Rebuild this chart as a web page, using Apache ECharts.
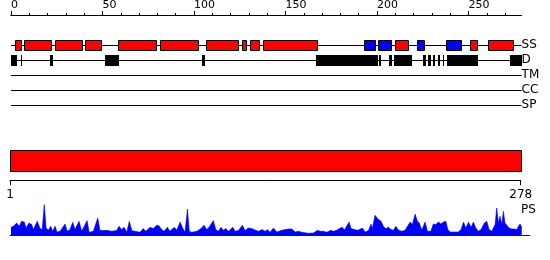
<!DOCTYPE html>
<html><head><meta charset="utf-8">
<script src="https://cdn.jsdelivr.net/npm/echarts@6/dist/echarts.min.js"></script>
<style>html,body{margin:0;padding:0;background:#fff}#c{width:550px;height:260px}</style>
</head><body><div id="c"></div>
<script>
// ---- data ----
const tracks = ['SS', 'D', 'TM', 'CC', 'SP'];
const majorTicks = [0, 50, 100, 150, 200, 250];
const minorTicks = [10, 20, 30, 40, 60, 70, 80, 90, 110, 120, 130, 140, 160, 170, 180, 190, 210, 220, 230, 240, 260, 270];
const seqLength = 278;
const domainTicks = [1, 278];
const helices = [[2.2, 5.8], [7.3, 22.6], [24.2, 39.5], [40.6, 49.6], [58.6, 79.6], [81.6, 102.6],
  [106.7, 124.8], [126.4, 128.8], [130.8, 135.9], [137.9, 167.9], [210.0, 217.7], [251.0, 255.0], [260.8, 275.0]];
const strands = [[193.0, 199.6], [200.7, 208.0], [222.0, 226.0], [237.9, 246.3]];
const disorder = [[0, 3.3], [5.5, 6.2], [21.3, 23.0], [51.5, 59.0], [104.5, 105.8], [166.7, 200.4],
  [201.1, 202.0], [206.7, 208.0], [209.4, 218.9], [225.3, 226.8], [228.0, 229.5], [230.8, 231.9],
  [233.2, 234.4], [235.9, 236.8], [238.2, 255.0], [272.7, 279.0]];
const domains = [[1, 278]];
const psProfile = [
  [1, 8], [2.3, 9], [4.1, 12.3], [5.4, 9], [6.8, 14], [8.2, 13.3], [9.2, 7.3], [10.8, 12.3], [12.3, 10.7], [13.1, 5.7],
  [15.3, 14], [16.8, 6.7], [18.0, 5.7], [19.1, 30.7], [20.1, 7.3], [21.3, 5], [22.6, 9], [23.7, 4], [25.0, 9], [26.0, 3.3],
  [27.7, 4], [30.4, 11.3], [31.6, 4], [33.1, 5.7], [34.6, 13], [35.8, 5.7], [38.0, 14], [39.5, 4], [42.4, 14.7], [43.5, 3],
  [45.8, 4], [48.2, 17.3], [49.4, 5], [51.2, 4.7], [53.1, 5], [55.8, 4], [58.5, 4.7], [59.8, 9], [61.2, 5.7], [62.5, 8],
  [64.0, 3.3], [65.4, 14], [66.7, 4.7], [68.5, 4],
  [69.4, 5], [71.2, 3], [73.0, 6.7], [74.3, 4], [76.7, 8], [78.4, 6.7], [80.3, 10], [81.5, 9.5], [83.0, 5.7], [84.3, 4],
  [86.1, 8], [87.4, 4], [89.9, 8], [91.2, 5], [93.0, 13.3], [94.4, 7.3], [95.7, 3], [97.0, 26.3], [98.0, 4], [99.3, 3],
  [102.1, 4], [104.4, 6.7], [106.0, 10], [107.5, 5.7], [108.8, 8], [111.1, 14.7], [112.4, 5.7], [113.8, 4], [115.3, 8], [116.5, 5],
  [118.0, 6.7], [119.3, 4], [121.7, 8], [122.9, 4], [124.7, 4.7], [126.9, 10], [128.4, 4.7], [130.1, 7.3], [132.0, 6.7], [133.8, 5.3],
  [135.6, 4], [137.8, 5.7], [139.2, 4],
  [140.6, 5.5], [142.0, 3], [143.8, 7.3], [145.6, 3.3], [148.3, 5], [149.2, 4.7], [151.9, 6.3], [153.8, 6.3], [155.6, 3.3], [157.4, 4],
  [159.2, 3], [162.8, 2], [165.5, 2.3], [167.9, 5], [169.2, 4], [171.0, 4], [172.8, 3], [175.2, 5], [176.4, 4], [178.3, 5],
  [180.1, 7.3], [181.3, 8], [182.4, 5.3], [183.3, 8], [185.0, 13.3], [186.0, 6.7], [187.8, 5.7], [189.7, 5], [192.2, 7.3], [193.7, 3.3],
  [195.5, 4.7], [196.9, 11.3], [197.6, 6.7], [199.1, 20], [200.9, 15.7], [202.4, 14], [203.6, 9], [204.9, 6.7], [206.3, 8], [207.8, 5.7],
  [209.1, 5], [210.4, 9], [211.8, 5.3],
  [213.6, 4], [215.4, 5], [218.2, 13.3], [219.4, 10.7], [220.9, 21.3], [222.1, 14], [223.2, 12.3], [224.5, 5], [226.3, 13.3], [227.6, 4],
  [229.4, 4], [230.8, 11.3], [232.1, 10.7], [233.6, 13.3], [234.9, 11.3], [236.3, 13.3], [237.6, 14], [238.7, 5.7], [239.9, 3.3], [244.4, 3.3],
  [245.9, 5.7], [247.2, 13.3], [248.5, 7.3], [249.9, 13], [251.4, 8], [252.6, 13.3], [253.9, 7.3], [255.3, 4], [256.8, 5.7], [258.6, 12.3],
  [259.9, 14], [261.1, 5.7], [262.6, 4], [264.4, 10.7], [265.3, 27.3], [266.2, 12.3], [267.1, 19], [268.1, 10.7], [268.9, 24], [269.8, 12.3],
  [270.8, 14], [272.0, 7.3], [273.5, 6.3], [274.9, 6.3], [276.2, 5.7], [277.1, 9], [278.0, 11.3], [278.9, 8]
];

// ---- chart ----
const FONT = 'DejaVu Sans';
function segRenderer(trackIdx, fill, stroke, h) {
  return function (params, api) {
    const p0 = api.coord([api.value(0), trackIdx]);
    const p1 = api.coord([api.value(1), trackIdx]);
    let x0 = Math.round(p0[0]), x1 = Math.round(p1[0]);
    if (x1 - x0 < 1) x1 = x0 + 1;
    const yc = Math.round(p0[1]);
    if (stroke) {
      return { type: 'rect', shape: { x: x0 + 0.5, y: yc - h / 2 + 0.5, width: x1 - x0 - 1, height: h },
        style: { fill: fill, stroke: stroke, lineWidth: 1 } };
    }
    return { type: 'rect', shape: { x: x0, y: yc - h / 2, width: x1 - x0, height: h + 1 }, style: { fill: fill } };
  };
}
const chart = echarts.init(document.getElementById('c'), null, { renderer: 'canvas' });
chart.setOption({
  animation: false,
  backgroundColor: '#ffffff',
  textStyle: { fontFamily: FONT },
  grid: [
    { left: 11, top: 45, width: 510.6, height: 60, outerBoundsMode: 'none', containLabel: false },
    { left: 10, top: 150, width: 510.7, height: 20.7, outerBoundsMode: 'none', containLabel: false },
    { left: 10, top: 204, width: 520, height: 31.3, outerBoundsMode: 'none', containLabel: false }
  ],
  xAxis: [
    { gridIndex: 0, type: 'value', min: 0, max: 279, position: 'top', offset: 30,
      axisLine: { show: true, onZero: false, lineStyle: { color: '#000', width: 1 } },
      axisTick: { show: true, length: 4, customValues: majorTicks, lineStyle: { color: '#000' } },
      axisLabel: { show: true, customValues: majorTicks, align: 'left', margin: 4, fontSize: 11, color: '#000', fontFamily: FONT },
      splitLine: { show: false } },
    { gridIndex: 0, type: 'value', min: 0, max: 279, position: 'top', offset: 30,
      axisLine: { show: true, onZero: false, lineStyle: { color: '#000', width: 1 } },
      axisTick: { show: true, length: 2, customValues: minorTicks, lineStyle: { color: '#000' } },
      axisLabel: { show: false },
      splitLine: { show: false } },
    { gridIndex: 1, type: 'value', min: 1, max: seqLength, position: 'bottom', offset: 10,
      axisLine: { show: true, onZero: false, lineStyle: { color: '#000', width: 1 } },
      axisTick: { show: true, length: 4.5, customValues: domainTicks, lineStyle: { color: '#000' } },
      axisLabel: { show: true, customValues: domainTicks, margin: 8, fontSize: 12, color: '#000', fontFamily: FONT },
      splitLine: { show: false } },
    { gridIndex: 2, type: 'value', min: 0.46, max: 283.4, position: 'bottom',
      axisLine: { show: true, onZero: false, lineStyle: { color: '#0000ff', width: 1 } },
      axisTick: { show: false }, axisLabel: { show: false }, splitLine: { show: false } }
  ],
  yAxis: [
    { gridIndex: 0, type: 'category', data: tracks, inverse: true, boundaryGap: false, position: 'right',
      axisLine: { show: false }, axisTick: { show: false },
      axisLabel: { show: true, interval: 0, margin: 0, fontSize: 12, color: '#000', fontFamily: FONT },
      splitLine: { show: true, interval: 0, lineStyle: { color: '#000', width: 1 } } },
    { gridIndex: 1, type: 'value', min: 0, max: 1, show: false },
    { gridIndex: 2, type: 'value', min: 0, max: 31.3, show: false }
  ],
  series: [
    { type: 'custom', xAxisIndex: 0, yAxisIndex: 0, data: helices, encode: { x: [0, 1] },
      renderItem: segRenderer(0, '#ff0000', '#000000', 10), z: 3 },
    { type: 'custom', xAxisIndex: 0, yAxisIndex: 0, data: strands, encode: { x: [0, 1] },
      renderItem: segRenderer(0, '#0000ff', '#000000', 10), z: 3 },
    { type: 'custom', xAxisIndex: 0, yAxisIndex: 0, data: disorder, encode: { x: [0, 1] },
      renderItem: segRenderer(1, '#000000', null, 10), z: 3 },
    { type: 'custom', xAxisIndex: 2, yAxisIndex: 1, data: domains, encode: { x: [0, 1] },
      renderItem: function (params, api) {
        const p0 = api.coord([api.value(0), 1]);
        const p1 = api.coord([api.value(1), 0]);
        return { type: 'rect', shape: { x: Math.round(p0[0]) + 0.5, y: Math.round(p0[1]) + 0.5,
          width: Math.round(p1[0]) - Math.round(p0[0]), height: Math.round(p1[1]) - Math.round(p0[1]) },
          style: { fill: '#ff0000', stroke: '#000', lineWidth: 1 } };
      }, z: 3 },
    { type: 'line', xAxisIndex: 3, yAxisIndex: 2, data: psProfile, symbol: 'none', smooth: false,
      lineStyle: { color: '#0000ff', width: 0.6 }, itemStyle: { color: '#0000ff' },
      areaStyle: { color: '#0000ff', opacity: 1 }, z: 2 }
  ],
  graphic: [
    { type: 'text', left: 521, top: 204, style: { text: 'PS', fontSize: 12, fontFamily: FONT, fill: '#000' } }
  ]
});
</script></body></html>
